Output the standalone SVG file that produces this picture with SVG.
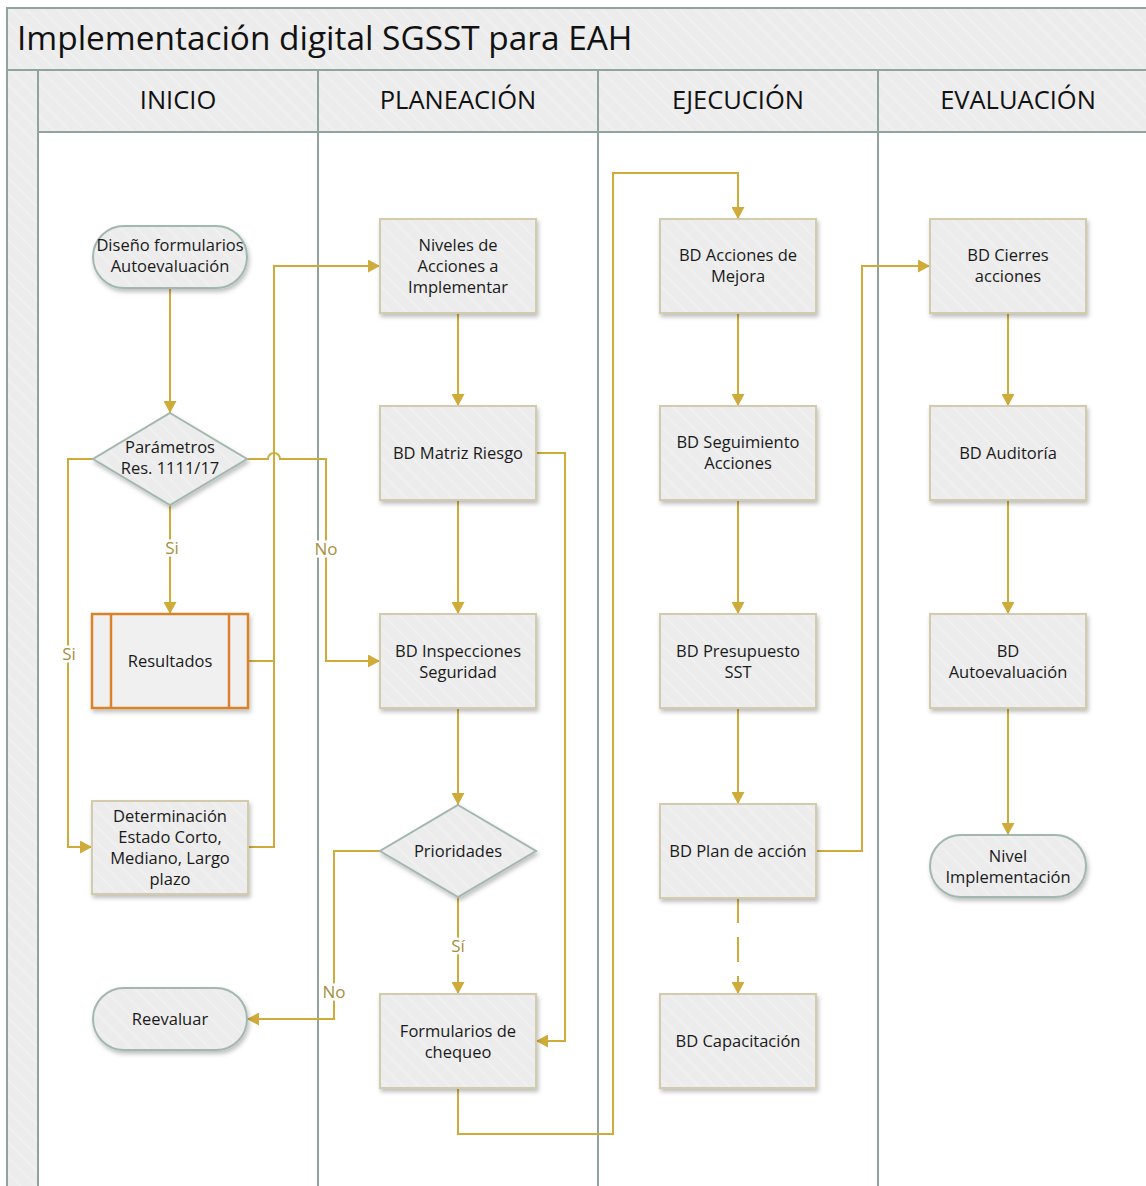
<svg xmlns="http://www.w3.org/2000/svg" width="1146" height="1186" viewBox="0 0 1146 1186">
<defs>
<pattern id="hatch" patternUnits="userSpaceOnUse" width="11" height="11" patternTransform="rotate(-45)">
<rect width="11" height="11" fill="#ececec"/>
<line x1="1" y1="0" x2="1" y2="11" stroke="#f4f4f4" stroke-width="1.2"/>
</pattern>
<filter id="sh" x="-10%" y="-10%" width="125%" height="130%">
<feDropShadow dx="1.5" dy="3" stdDeviation="2" flood-color="#000" flood-opacity="0.25"/>
</filter>
<marker id="arr" markerUnits="userSpaceOnUse" markerWidth="13" markerHeight="13" refX="12" refY="6.5" orient="auto">
<path d="M0,0 L12,6.5 L0,13 z" fill="#cfab3a"/>
</marker>
</defs>
<style>
.band{fill:url(#hatch);}
.lane{stroke:#8fa59c;stroke-width:2;fill:none;}
.title{font-family:"Open Sans","Noto Sans",sans-serif;font-size:33.4px;fill:#111;}
.hdr{font-family:"Open Sans","Noto Sans",sans-serif;font-size:25.5px;fill:#111;text-anchor:middle;}
.box{fill:url(#hatch);stroke:#d3cbad;stroke-width:2;filter:url(#sh);}
.term{fill:url(#hatch);stroke:#a2b8ae;stroke-width:2;filter:url(#sh);}
.t{font-family:"Open Sans","Noto Sans",sans-serif;font-size:16.5px;fill:#1a1a1a;text-anchor:middle;}
.c{fill:none;stroke:#cfab3a;stroke-width:2;}
.ca{fill:none;stroke:#cfab3a;stroke-width:2;marker-end:url(#arr);}
.lbl{font-family:"Open Sans","Noto Sans",sans-serif;font-size:17px;fill:#a68f3c;text-anchor:middle;stroke:#fff;stroke-width:5;paint-order:stroke;}
</style>
<rect x="0" y="0" width="1146" height="1186" fill="#fff"/>
<g id="pool">
<rect class="band" x="7" y="8" width="1146" height="62"/>
<rect class="band" x="7" y="70" width="31" height="1120"/>
<rect class="band" x="38" y="70" width="1110" height="62"/>
<path class="lane" d="M7,1190 V8 H1150 M7,70 H1150 M38,132 H1150 M38,70 V1190 M318,70 V1190 M598,70 V1190 M878,70 V1190"/>
<text class="title" x="17" y="50">Implementación digital SGSST para EAH</text>
<text class="hdr" x="178" y="109">INICIO</text>
<text class="hdr" x="458" y="109">PLANEACIÓN</text>
<text class="hdr" x="738" y="109">EJECUCIÓN</text>
<text class="hdr" x="1018" y="109">EVALUACIÓN</text>
</g>
<g id="connectors">
<path class="ca" d="M170,288 V413"/>
<path class="ca" d="M170,505 V614"/>
<path class="ca" d="M93,459 H68 V847 H92"/>
<path class="ca" d="M247,459 H268 A6,6 0 0 1 280,459 H326 V661 H380"/>
<path class="c" d="M248,661 H274"/>
<path class="ca" d="M248,847 H274 V266 H380"/>
<path class="ca" d="M458,313 V406"/>
<path class="ca" d="M458,500 V614"/>
<path class="ca" d="M458,708 V805"/>
<path class="ca" d="M458,897 V994"/>
<path class="ca" d="M380,851 H334 V1019 H247"/>
<path class="ca" d="M536,453 H565 V1041 H536"/>
<path class="ca" d="M458,1088 V1134 H613 V173 H738 V219"/>
<path class="ca" d="M738,313 V406"/>
<path class="ca" d="M738,500 V614"/>
<path class="ca" d="M738,708 V804"/>
<path class="ca" d="M738,898 V994" stroke-dasharray="25 14"/>
<path class="ca" d="M816,851 H862 V266 H930"/>
<path class="ca" d="M1008,313 V406"/>
<path class="ca" d="M1008,500 V614"/>
<path class="ca" d="M1008,708 V835"/>
<text class="lbl" x="172" y="554">Si</text>
<text class="lbl" x="69" y="660">Si</text>
<text class="lbl" x="326" y="555">No</text>
<text class="lbl" x="458" y="952">Sí</text>
<text class="lbl" x="334" y="998">No</text>
</g>
<g id="n-diseno">
<rect class="term" x="93" y="226" width="154" height="62" rx="31"/>
<text class="t" x="170" y="251">Diseño formularios</text>
<text class="t" x="170" y="272">Autoevaluación</text>
</g>
<g id="n-parametros">
<path class="term" d="M170,413 L247,459 L170,505 L93,459 z"/>
<text class="t" x="170" y="453">Parámetros</text>
<text class="t" x="170" y="474">Res. 1111/17</text>
</g>
<g id="n-resultados">
<rect x="92" y="614" width="156" height="94" fill="#f0f0f0" stroke="#d9822b" stroke-width="2.5" filter="url(#sh)"/>
<path d="M111,614 V708 M229,614 V708" stroke="#d9822b" stroke-width="2.5"/>
<text class="t" x="170" y="667">Resultados</text>
</g>
<g id="n-determinacion">
<rect class="box" x="92" y="801" width="156" height="93"/>
<text class="t" x="170" y="822">Determinación</text>
<text class="t" x="170" y="843">Estado Corto,</text>
<text class="t" x="170" y="864">Mediano, Largo</text>
<text class="t" x="170" y="885">plazo</text>
</g>
<g id="n-reevaluar">
<rect class="term" x="93" y="988" width="154" height="62" rx="31"/>
<text class="t" x="170" y="1025">Reevaluar</text>
</g>
<g id="n-niveles">
<rect class="box" x="380" y="219" width="156" height="94"/>
<text class="t" x="458" y="251">Niveles de</text>
<text class="t" x="458" y="272">Acciones a</text>
<text class="t" x="458" y="293">Implementar</text>
</g>
<g id="n-matriz">
<rect class="box" x="380" y="406" width="156" height="94"/>
<text class="t" x="458" y="459">BD Matriz Riesgo</text>
</g>
<g id="n-inspecciones">
<rect class="box" x="380" y="614" width="156" height="94"/>
<text class="t" x="458" y="657">BD Inspecciones</text>
<text class="t" x="458" y="678">Seguridad</text>
</g>
<g id="n-prioridades">
<path class="term" d="M458,805 L536,851 L458,897 L380,851 z"/>
<text class="t" x="458" y="857">Prioridades</text>
</g>
<g id="n-formularios">
<rect class="box" x="380" y="994" width="156" height="94"/>
<text class="t" x="458" y="1037">Formularios de</text>
<text class="t" x="458" y="1058">chequeo</text>
</g>
<g id="n-acciones">
<rect class="box" x="660" y="219" width="156" height="94"/>
<text class="t" x="738" y="261">BD Acciones de</text>
<text class="t" x="738" y="282">Mejora</text>
</g>
<g id="n-seguimiento">
<rect class="box" x="660" y="406" width="156" height="94"/>
<text class="t" x="738" y="448">BD Seguimiento</text>
<text class="t" x="738" y="469">Acciones</text>
</g>
<g id="n-presupuesto">
<rect class="box" x="660" y="614" width="156" height="94"/>
<text class="t" x="738" y="657">BD Presupuesto</text>
<text class="t" x="738" y="678">SST</text>
</g>
<g id="n-plan">
<rect class="box" x="660" y="804" width="156" height="94"/>
<text class="t" x="738" y="857">BD Plan de acción</text>
</g>
<g id="n-capacitacion">
<rect class="box" x="660" y="994" width="156" height="94"/>
<text class="t" x="738" y="1047">BD Capacitación</text>
</g>
<g id="n-cierres">
<rect class="box" x="930" y="219" width="156" height="94"/>
<text class="t" x="1008" y="261">BD Cierres</text>
<text class="t" x="1008" y="282">acciones</text>
</g>
<g id="n-auditoria">
<rect class="box" x="930" y="406" width="156" height="94"/>
<text class="t" x="1008" y="459">BD Auditoría</text>
</g>
<g id="n-autoevaluacion">
<rect class="box" x="930" y="614" width="156" height="94"/>
<text class="t" x="1008" y="657">BD</text>
<text class="t" x="1008" y="678">Autoevaluación</text>
</g>
<g id="n-nivel">
<rect class="term" x="930" y="835" width="156" height="62" rx="31"/>
<text class="t" x="1008" y="862">Nivel</text>
<text class="t" x="1008" y="883">Implementación</text>
</g>
</svg>
